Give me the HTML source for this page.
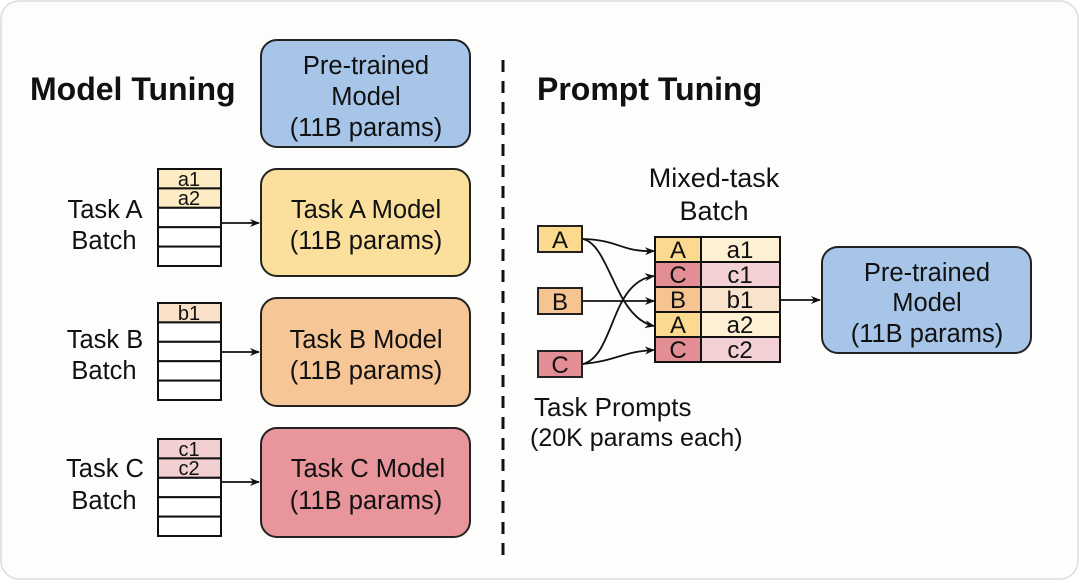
<!DOCTYPE html>
<html><head><meta charset="utf-8"><style>
html,body{margin:0;padding:0;background:#fff;}
svg{display:block;font-family:"Liberation Sans",Arial,sans-serif;}
</style></head><body>
<svg width="1080" height="581" viewBox="0 0 1080 581" xmlns="http://www.w3.org/2000/svg">
<defs><marker id="ar" markerWidth="10" markerHeight="10" refX="9" refY="5" orient="auto" markerUnits="userSpaceOnUse"><path d="M0,1 L10,5 L0,9 L3,5 Z" fill="#111"/></marker></defs>
<rect x="1" y="1" width="1077" height="578" rx="18" fill="#fdfdfc" stroke="#dcdcdc" stroke-width="1.5"/>
<text x="30" y="100" font-size="32" font-weight="bold" fill="#111">Model Tuning</text>
<text x="537" y="100" font-size="32" font-weight="bold" fill="#111">Prompt Tuning</text>
<line x1="503" y1="60" x2="503" y2="562" stroke="#111" stroke-width="3" stroke-dasharray="12,9"/>
<g stroke="#222" stroke-width="2">
<rect x="261" y="40" width="209" height="107" rx="16" fill="#a7c5e8"/>
<rect x="261" y="169" width="209" height="107" rx="16" fill="#fbdf9c"/>
<rect x="261" y="298" width="209" height="108" rx="16" fill="#f7c697"/>
<rect x="261" y="428" width="209" height="109" rx="16" fill="#e8959b"/>
<rect x="822" y="247" width="209" height="106" rx="16" fill="#a7c5e8"/>
</g>
<g font-size="25.5" fill="#111" text-anchor="middle">
<text x="366" y="74">Pre-trained</text><text x="366" y="105">Model</text><text x="366" y="136">(11B params)</text>
<text x="366" y="218">Task A Model</text><text x="366" y="249">(11B params)</text>
<text x="366" y="348">Task B Model</text><text x="366" y="379">(11B params)</text>
<text x="368" y="477">Task C Model</text><text x="366" y="509">(11B params)</text>
<text x="927" y="281">Pre-trained</text><text x="927" y="311">Model</text><text x="927" y="342">(11B params)</text>
<text x="105" y="218">Task A</text><text x="104" y="249">Batch</text>
<text x="105" y="348">Task B</text><text x="104" y="379">Batch</text>
<text x="105" y="477">Task C</text><text x="104" y="509">Batch</text>
<text x="714" y="187" font-size="27">Mixed-task</text><text x="714" y="220" font-size="27">Batch</text>
<text x="534" y="416" text-anchor="start" font-size="26">Task Prompts</text>
<text x="530" y="446" text-anchor="start" font-size="25">(20K params each)</text>
</g>
<g stroke="#111" stroke-width="2">
<rect x="158" y="169" width="63" height="19.4" fill="#fdebc4"/><rect x="158" y="188.4" width="63" height="19.4" fill="#fdebc4"/>
<rect x="158" y="207.8" width="63" height="19.4" fill="#fff"/><rect x="158" y="227.2" width="63" height="19.4" fill="#fff"/><rect x="158" y="246.6" width="63" height="19.4" fill="#fff"/>
<rect x="158" y="303" width="63" height="19.4" fill="#f9e0c6"/><rect x="158" y="322.4" width="63" height="19.4" fill="#fff"/>
<rect x="158" y="341.8" width="63" height="19.4" fill="#fff"/><rect x="158" y="361.2" width="63" height="19.4" fill="#fff"/><rect x="158" y="380.6" width="63" height="19.4" fill="#fff"/>
<rect x="158" y="439" width="63" height="19.4" fill="#f2cfd1"/><rect x="158" y="458.4" width="63" height="19.4" fill="#f2cfd1"/>
<rect x="158" y="477.8" width="63" height="19.4" fill="#fff"/><rect x="158" y="497.2" width="63" height="19.4" fill="#fff"/><rect x="158" y="516.6" width="63" height="19.4" fill="#fff"/>
</g>
<g font-size="20" fill="#111" text-anchor="middle">
<text x="189" y="186">a1</text><text x="189" y="205">a2</text>
<text x="189" y="320">b1</text>
<text x="189" y="456">c1</text><text x="189" y="475">c2</text>
</g>
<g stroke="#111" stroke-width="1.8" fill="none" marker-end="url(#ar)">
<line x1="221" y1="223" x2="259" y2="223"/>
<line x1="221" y1="352" x2="259" y2="352"/>
<line x1="221" y1="482" x2="259" y2="482"/>
<line x1="781" y1="300" x2="820" y2="300"/>
<path d="M583,239 C620,240 620,252 654,251"/>
<path d="M583,239 C610,245 615,318 654,326"/>
<line x1="583" y1="301" x2="654" y2="301"/>
<path d="M583,364 C615,355 610,282 654,276"/>
<path d="M583,364 C620,360 620,352 654,350"/>
</g>
<g stroke="#222" stroke-width="2">
<rect x="538" y="226" width="44" height="26" fill="#fbd98f"/>
<rect x="538" y="288" width="44" height="26" fill="#f5c491"/>
<rect x="538" y="351" width="44" height="26" fill="#e38e94"/>
</g>
<g font-size="24" fill="#111" text-anchor="middle">
<text x="560" y="248">A</text><text x="560" y="310">B</text><text x="560" y="373">C</text>
</g>
<g stroke="#111" stroke-width="2">
<rect x="655" y="237" width="46" height="25" fill="#fbd98f"/><rect x="701" y="237" width="79" height="25" fill="#fdf0d3"/>
<rect x="655" y="262" width="46" height="25" fill="#e38e94"/><rect x="701" y="262" width="79" height="25" fill="#f3d0d3"/>
<rect x="655" y="287" width="46" height="25" fill="#f5c491"/><rect x="701" y="287" width="79" height="25" fill="#f8e3cd"/>
<rect x="655" y="312" width="46" height="25" fill="#fbd98f"/><rect x="701" y="312" width="79" height="25" fill="#fdf0d3"/>
<rect x="655" y="337" width="46" height="25" fill="#e38e94"/><rect x="701" y="337" width="79" height="25" fill="#f3d0d3"/>
</g>
<g font-size="24" fill="#111" text-anchor="middle">
<text x="678" y="258">A</text><text x="740" y="258">a1</text>
<text x="678" y="283">C</text><text x="740" y="283">c1</text>
<text x="678" y="308">B</text><text x="740" y="308">b1</text>
<text x="678" y="333">A</text><text x="740" y="333">a2</text>
<text x="678" y="358">C</text><text x="740" y="358">c2</text>
</g>
</svg>
</body></html>
